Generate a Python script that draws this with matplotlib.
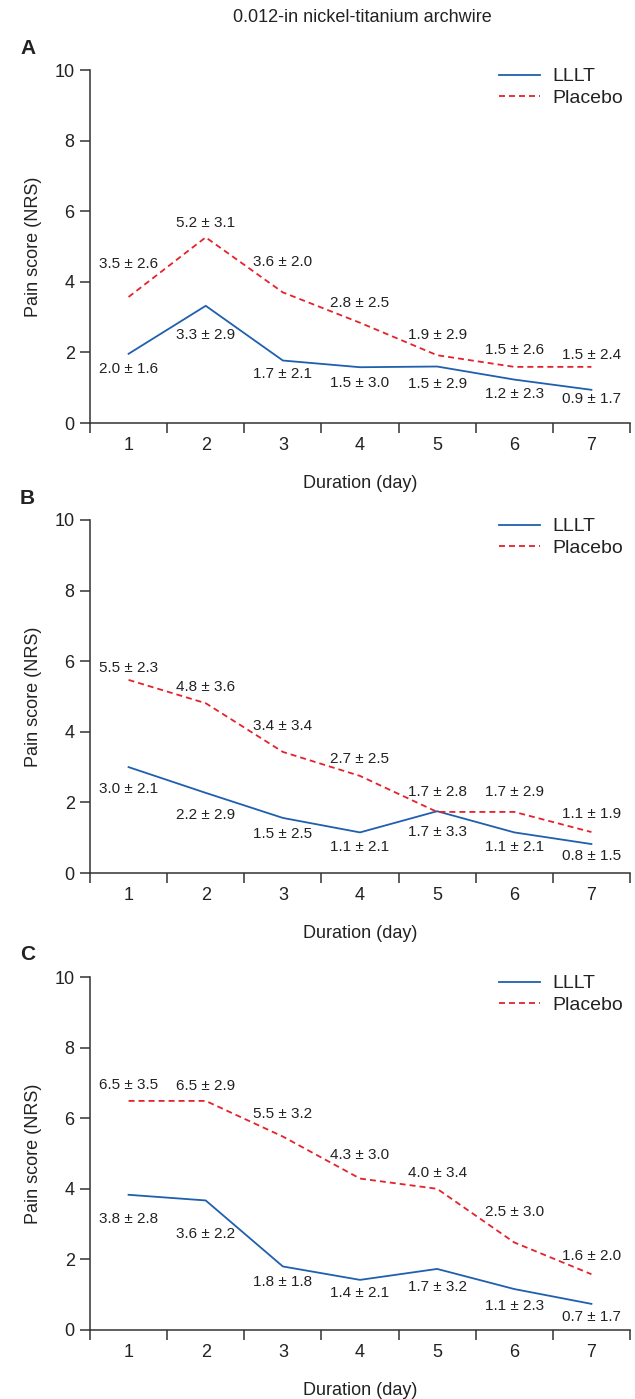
import matplotlib
matplotlib.use("Agg")
import matplotlib.pyplot as plt

plt.rcParams['font.family'] = ['Liberation Sans', 'DejaVu Sans']
plt.rcParams['lines.scale_dashes'] = False

days = [1, 2, 3, 4, 5, 6, 7]
panels = ['A', 'B', 'C']
title = '0.012-in nickel-titanium archwire'

# plotted line values
lllt_a = [1.96, 3.32, 1.77, 1.58, 1.60, 1.23, 0.94]
plac_a = [3.57, 5.26, 3.70, 2.84, 1.92, 1.59, 1.59]
lllt_b = [3.00, 2.27, 1.56, 1.15, 1.75, 1.15, 0.82]
plac_b = [5.47, 4.81, 3.43, 2.75, 1.73, 1.73, 1.16]
lllt_c = [3.83, 3.67, 1.80, 1.42, 1.73, 1.16, 0.74]
plac_c = [6.49, 6.49, 5.48, 4.29, 4.00, 2.48, 1.58]

# printed mean and SD labels
lllt_mean_a = [2.0, 3.3, 1.7, 1.5, 1.5, 1.2, 0.9]
lllt_sd_a = [1.6, 2.9, 2.1, 3.0, 2.9, 2.3, 1.7]
plac_mean_a = [3.5, 5.2, 3.6, 2.8, 1.9, 1.5, 1.5]
plac_sd_a = [2.6, 3.1, 2.0, 2.5, 2.9, 2.6, 2.4]
lllt_mean_b = [3.0, 2.2, 1.5, 1.1, 1.7, 1.1, 0.8]
lllt_sd_b = [2.1, 2.9, 2.5, 2.1, 3.3, 2.1, 1.5]
plac_mean_b = [5.5, 4.8, 3.4, 2.7, 1.7, 1.7, 1.1]
plac_sd_b = [2.3, 3.6, 3.4, 2.5, 2.8, 2.9, 1.9]
lllt_mean_c = [3.8, 3.6, 1.8, 1.4, 1.7, 1.1, 0.7]
lllt_sd_c = [2.8, 2.2, 1.8, 2.1, 3.2, 2.3, 1.7]
plac_mean_c = [6.5, 6.5, 5.5, 4.3, 4.0, 2.5, 1.6]
plac_sd_c = [3.5, 2.9, 3.2, 3.0, 3.4, 3.0, 2.0]

# label offsets from the line (data units)
lllt_off = [[-0.42, -0.84, -0.39, -0.44, -0.49, -0.41, -0.26],
            [-0.63, -0.63, -0.45, -0.42, -0.59, -0.42, -0.35],
            [-0.68, -0.95, -0.43, -0.38, -0.52, -0.47, -0.36]]
plac_off = [[0.93, 0.40, 0.85, 0.55, 0.56, 0.47, 0.33],
            [0.34, 0.47, 0.74, 0.49, 0.56, 0.56, 0.50],
            [0.46, 0.43, 0.65, 0.67, 0.45, 0.86, 0.51]]

data = [(lllt_a, plac_a, lllt_mean_a, lllt_sd_a, plac_mean_a, plac_sd_a),
        (lllt_b, plac_b, lllt_mean_b, lllt_sd_b, plac_mean_b, plac_sd_b),
        (lllt_c, plac_c, lllt_mean_c, lllt_sd_c, plac_mean_c, plac_sd_c)]

W, H = 635, 1399
fig = plt.figure(figsize=(W/100, H/100), dpi=100)
blue = '#1f5fae'
red = '#e4222b'
axc = '#333333'
txc = '#222222'

tops = [70, 520, 977]
for i, top in enumerate(tops):
    ll, pl, lm, ls, pm, ps = data[i]
    ax = fig.add_axes([90/W, 1-(top+353)/H, 540/W, 353/H])
    ax.plot(days, ll, color=blue, lw=1.3, label='LLLT')
    ax.plot(days, pl, color=red, lw=1.3, ls=(0, (4.3, 2.9)), label='Placebo')
    for j, d in enumerate(days):
        ax.text(d, ll[j]+lllt_off[i][j], f'{lm[j]:.1f} \u00b1 {ls[j]:.1f}',
                ha='center', va='center', fontsize=11, color=txc)
        ax.text(d, pl[j]+plac_off[i][j], f'{pm[j]:.1f} \u00b1 {ps[j]:.1f}',
                ha='center', va='center', fontsize=11, color=txc)
    ax.set_xlim(0.5, 7.5)
    ax.set_ylim(0, 10)
    ax.set_yticks([0, 2, 4, 6, 8, 10])
    ax.set_xticks([k + 0.5 for k in range(8)])
    ax.set_xticklabels([])
    ax.set_xticks(days, minor=True)
    ax.set_xticklabels([str(d) for d in days], minor=True)
    ax.tick_params(axis='x', which='major', length=7, width=1.1, color=axc, direction='out')
    ax.tick_params(axis='x', which='minor', length=0, pad=10, labelsize=13, labelcolor=txc)
    ax.tick_params(axis='y', length=7, width=1.1, color=axc, pad=4, labelsize=13, labelcolor=txc)
    for s in ['top', 'right']:
        ax.spines[s].set_visible(False)
    for s in ['left', 'bottom']:
        ax.spines[s].set_color(axc)
        ax.spines[s].set_linewidth(1.1)
    ax.set_ylabel('Pain score (NRS)', fontsize=13, color=txc, labelpad=9)
    ax.set_xlabel('Duration (day)', fontsize=13, color=txc, labelpad=15)
    ax.legend(loc='upper right', bbox_to_anchor=(0.987, 1.006), frameon=False,
              fontsize=14, handlelength=2.1, handletextpad=0.65, labelspacing=0.2,
              borderpad=0, borderaxespad=0, labelcolor=txc)
    fig.text(20/W, 1-(top-22)/H, panels[i], fontsize=15, fontweight='bold',
             color=txc, ha='left', va='center')

fig.text(362/W, 1-18/H, title, fontsize=13, color=txc, ha='center', va='center')

fig.savefig('out.png', dpi=100)
